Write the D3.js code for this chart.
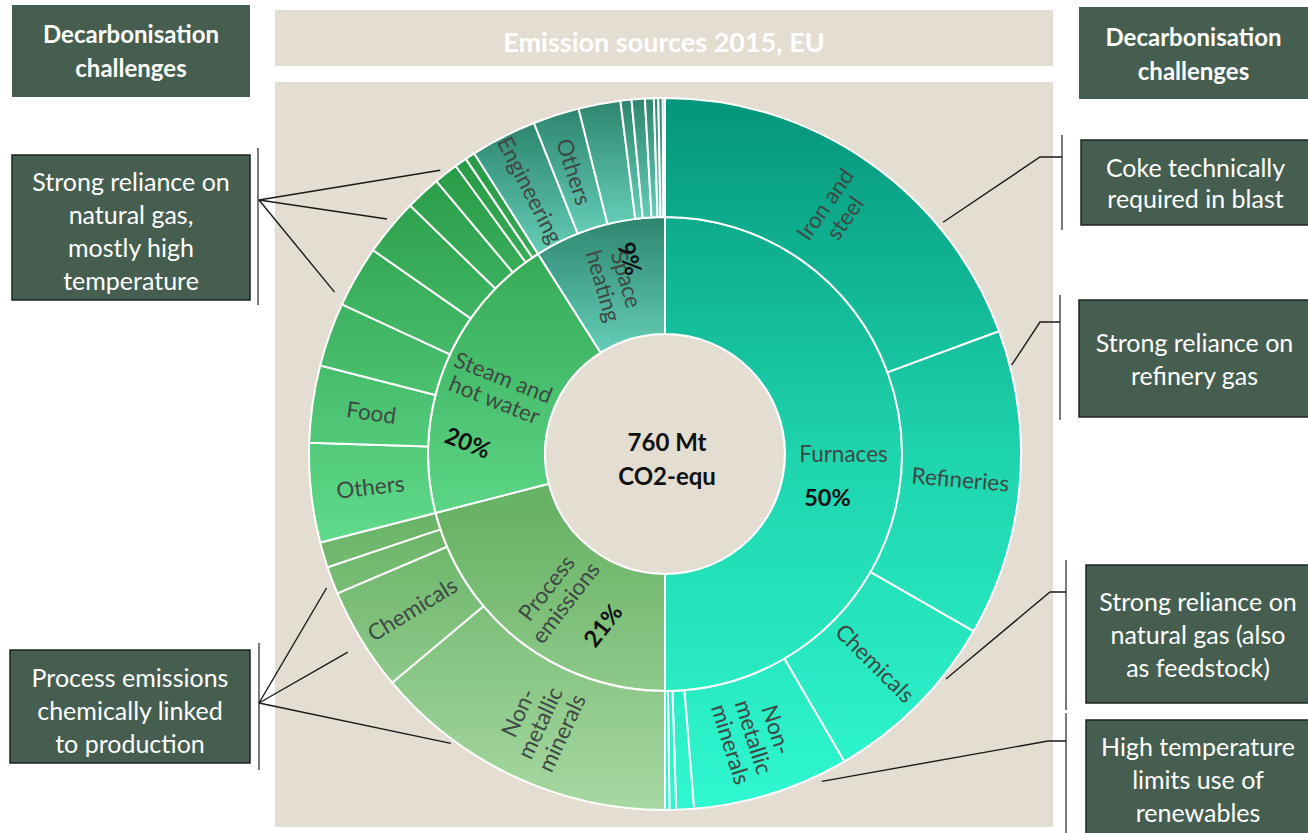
<!DOCTYPE html>
<html>
<head>
<meta charset="utf-8">
<script src="https://cdn.jsdelivr.net/npm/d3@7"></script>
<style>
  body { margin: 0; background: #ffffff; }
  svg { display: block; font-family: Lato, "Open Sans", sans-serif; }
</style>
</head>
<body>
<svg id="chart" width="1308" height="833"></svg>
<script>
// ---- Industrial emission sources, EU 2015 (shares of 760 Mt CO2-equ, in %) ----
const totalLabel = ["760 Mt", "CO2-equ"];
const groupNames = ["Furnaces", "Process\nemissions", "Steam and\nhot water", "Space\nheating"];
const groupShares = [50, 21, 20, 9];

const furnaceSectors = ["Iron and\nsteel", "Refineries", "Chemicals", "Non-\nmetallic\nminerals", "", "", ""];
const furnaceShares  = [19.4, 13.9, 8.3, 7.1, 0.8, 0.3, 0.2];

const processSectors = ["Non-\nmetallic\nminerals", "Chemicals", "", ""];
const processShares  = [13.9, 4.7, 1.25, 1.15];

const steamSectors = ["Others", "Food", "", "", "", "", "", "", ""];
const steamShares  = [4.5, 3.5, 2.9, 2.8, 2.6, 1.6, 1.1, 0.55, 0.45];

const spaceSectors = ["Engineering", "Others", "", "", "", "", "", "", ""];
const spaceShares  = [3.0, 2.1, 1.9, 0.5, 0.6, 0.4, 0.2, 0.2, 0.1];

const titleText = "Emission sources 2015, EU";
const headerText = ["Decarbonisation", "challenges"];
const leftNotes  = [
  ["Strong reliance on", "natural gas,", "mostly high", "temperature"],
  ["Process emissions", "chemically linked", "to production"]
];
const rightNotes = [
  ["Coke technically", "required in blast"],
  ["Strong reliance on", "refinery gas"],
  ["Strong reliance on", "natural gas (also", "as feedstock)"],
  ["High temperature", "limits use of", "renewables"]
];

// ---- layout ----
const cx = 665, cy = 454;
const boxFill = "#465e4f";
const beige = "#e3ddd2";
const labelColor = "#3e4944";
const sliceFont = 22.5;
const noteFont = 25;

const svg = d3.select("#chart");
const defs = svg.append("defs");

// background panels
svg.append("rect").attr("x", 275).attr("y", 10).attr("width", 778).attr("height", 56).attr("fill", beige);
svg.append("text").attr("x", 664).attr("y", 52).attr("text-anchor", "middle")
  .attr("fill", "#ffffff").attr("font-weight", 700).attr("font-size", 27).text(titleText);
svg.append("rect").attr("x", 275).attr("y", 82).attr("width", 778).attr("height", 745).attr("fill", beige);

// ---- hierarchy ----
const sectorNames  = [furnaceSectors, processSectors, steamSectors, spaceSectors];
const sectorShares = [furnaceShares, processShares, steamShares, spaceShares];

const root = d3.hierarchy({
  name: "total",
  children: groupNames.map((g, i) => ({
    name: g, index: i,
    children: sectorNames[i].map((n, j) => ({ name: n, index: i, value: sectorShares[i][j] }))
  }))
}).sum(d => d.value || 0);

d3.partition().size([1, 3])(root);

const angle = d3.scaleLinear().domain([0, 1]).range([0, 2 * Math.PI]);
const radius = d3.scaleLinear().domain([1, 2, 3]).range([120, 237, 356]);

const arc = d3.arc()
  .startAngle(d => angle(d.x0))
  .endAngle(d => angle(d.x1))
  .innerRadius(d => radius(d.y0))
  .outerRadius(d => radius(d.y1));

// gradients per emission group
const grads = [
  { units: "userSpaceOnUse", y1: -357, y2: 356, stops: [[0, "#04957a"], [0.5, "#1ed4ad"], [1, "#2ff8d0"]] },
  { units: "userSpaceOnUse", y1: 60, y2: 356, stops: [[0, "#69b366"], [1, "#a7d8a2"]] },
  { units: "userSpaceOnUse", y1: -302, y2: 88, stops: [[0, "#279944"], [1, "#60da8b"]] },
  { units: "objectBoundingBox", y1: 0, y2: 1, stops: [[0, "#2e856f"], [1, "#64cdb7"]] }
];
grads.forEach((g, i) => {
  const lg = defs.append("linearGradient").attr("id", "grad" + i)
    .attr("gradientUnits", g.units)
    .attr("x1", 0).attr("x2", 0).attr("y1", g.y1).attr("y2", g.y2);
  g.stops.forEach(s => lg.append("stop").attr("offset", s[0]).attr("stop-color", s[1]));
});

const g = svg.append("g").attr("transform", `translate(${cx},${cy})`);

// centre disc
g.append("circle").attr("r", radius(1)).attr("fill", beige)
  .attr("stroke", "#ffffff").attr("stroke-width", 2);

const nodes = root.descendants().filter(d => d.depth > 0);

g.selectAll("path.slice").data(nodes).join("path")
  .attr("class", "slice")
  .attr("d", arc)
  .attr("fill", d => `url(#grad${d.data.index})`)
  .attr("stroke", "#ffffff")
  .attr("stroke-width", 2)
  .attr("stroke-linejoin", "round");

// radial label placement
function labelFrame(d) {
  const a = (angle(d.x0) + angle(d.x1)) / 2;
  const r = (radius(d.y0) + radius(d.y1)) / 2;
  const deg = a * 180 / Math.PI;
  const rot = deg < 180 ? deg - 90 : deg + 90 - 360;
  return { x: r * Math.sin(a), y: -r * Math.cos(a), rot };
}

function multiLine(sel, lines, lh) {
  lines.forEach((ln, k) => {
    sel.append("tspan").attr("x", 0)
      .attr("dy", k === 0 ? (-(lines.length - 1) / 2 * lh + 0.35 * lh) : lh)
      .text(ln);
  });
}

const labelled = nodes.filter(d => d.data.name);
labelled.forEach(d => {
  const f = labelFrame(d);
  const t = g.append("g").attr("transform", `translate(${f.x},${f.y}) rotate(${f.rot})`);
  const txt = t.append("text").attr("text-anchor", "middle")
    .attr("fill", labelColor).attr("font-size", sliceFont);
  multiLine(txt, d.data.name.split("\n"), 24);
});

// percentage labels for the inner ring, offset within each label frame
const pctOffsets = [[-16, 43], [5, 56], [-9, 62], [-19, -21]];
root.children.forEach((d, i) => {
  const f = labelFrame(d);
  g.append("g").attr("transform", `translate(${f.x},${f.y}) rotate(${f.rot})`)
    .append("text").attr("x", pctOffsets[i][0]).attr("y", pctOffsets[i][1] + 8.5)
    .attr("text-anchor", "middle").attr("font-weight", 700).attr("font-size", 23.5)
    .attr("fill", "#111111").text(groupShares[i] + "%");
});

// centre total
const ct = g.append("text").attr("text-anchor", "middle").attr("font-weight", 700)
  .attr("font-size", 24).attr("fill", "#111111");
ct.append("tspan").attr("x", 2).attr("y", -3).text(totalLabel[0]);
ct.append("tspan").attr("x", 2).attr("y", 31).text(totalLabel[1]);

// ---- annotation boxes ----
function noteBox(x, y, w, h, lines, opts) {
  const id = "clip" + Math.round(x) + "_" + Math.round(y);
  defs.append("clipPath").attr("id", id).append("rect")
    .attr("x", x).attr("y", y).attr("width", w).attr("height", h);
  svg.append("rect").attr("x", x).attr("y", y).attr("width", w).attr("height", h)
    .attr("fill", boxFill)
    .attr("stroke", opts.border ? "#1e2420" : "none").attr("stroke-width", 1.5);
  const t = svg.append("text").attr("clip-path", `url(#${id})`)
    .attr("text-anchor", "middle").attr("fill", "#ffffff")
    .attr("font-size", opts.size).attr("font-weight", opts.bold ? 700 : 400);
  lines.forEach((ln, k) => {
    t.append("tspan").attr("x", x + w / 2).attr("y", opts.first + k * opts.lh).text(ln);
  });
}

noteBox(12, 5, 238, 92, headerText, { size: 24, bold: true, first: 43, lh: 34, border: false });
noteBox(1079, 7, 229, 92, headerText, { size: 24, bold: true, first: 46, lh: 34, border: false });

noteBox(12, 155, 238, 145, leftNotes[0], { size: noteFont, first: 191, lh: 33, border: true });
noteBox(10, 650, 240, 113, leftNotes[1], { size: noteFont, first: 687, lh: 33, border: true });

noteBox(1081, 140, 229, 85, rightNotes[0], { size: noteFont, first: 177, lh: 31, border: true });
noteBox(1079, 300, 231, 117, rightNotes[1], { size: noteFont, first: 352, lh: 33, border: true });
noteBox(1086, 565, 224, 138, rightNotes[2], { size: noteFont, first: 611, lh: 33, border: true });
noteBox(1086, 720, 224, 120, rightNotes[3], { size: noteFont, first: 756, lh: 33, border: true });

// ---- brackets and leader lines ----
const polar = (deg, r) => [cx + r * Math.sin(deg * Math.PI / 180), cy - r * Math.cos(deg * Math.PI / 180)];
const brackets = [
  { x: 258, y0: 148, y1: 305 },
  { x: 259, y0: 643, y1: 770 },
  { x: 1062, y0: 135, y1: 230 },
  { x: 1060, y0: 295, y1: 420 },
  { x: 1066, y0: 560, y1: 710 },
  { x: 1066, y0: 713, y1: 833 }
];
brackets.forEach(b => svg.append("line")
  .attr("x1", b.x).attr("x2", b.x).attr("y1", b.y0).attr("y2", b.y1)
  .attr("stroke", "#7a7a7a").attr("stroke-width", 2));

const leaders = [
  [[259, 200], polar(321.6, 362)],
  [[259, 200], polar(310.2, 364)],
  [[259, 200], polar(296.1, 368)],
  [[259, 703], polar(248.4, 364)],
  [[259, 703], polar(238.0, 374)],
  [[259, 703], polar(216.5, 360)],
  [polar(50.2, 362), [1040, 157], [1062, 157]],
  [polar(75.6, 358), [1040, 322], [1060, 322]],
  [polar(128.7, 360), [1050, 592], [1066, 592]],
  [polar(154.4, 363), [1048, 741], [1066, 741]]
];
const line = d3.line();
leaders.forEach(pts => svg.append("path").attr("d", line(pts))
  .attr("fill", "none").attr("stroke", "#1a1a1a").attr("stroke-width", 1.4));
</script>
</body>
</html>
